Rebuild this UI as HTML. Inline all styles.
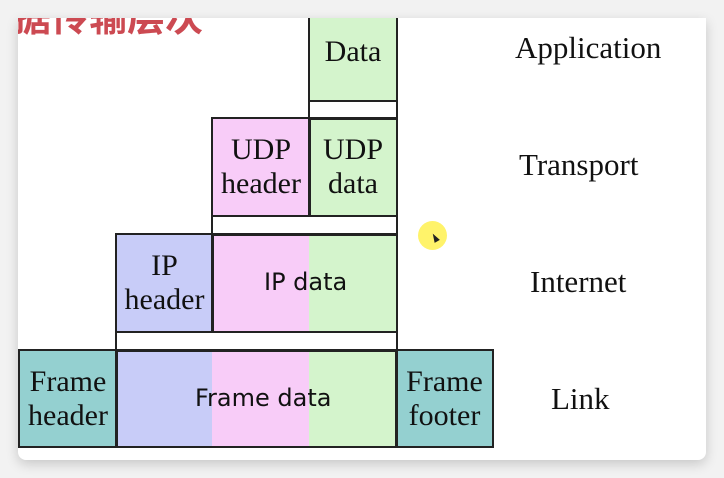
<!DOCTYPE html>
<html><head><meta charset="utf-8"><style>
html,body{margin:0;padding:0;width:724px;height:478px;background:#f2f2f2;overflow:hidden;}
.card{position:absolute;left:18px;top:18px;width:688px;height:442px;background:#fff;border-radius:0 0 8px 8px;box-shadow:0 4px 12px rgba(0,0,0,.18);overflow:hidden;}
.t{position:absolute;left:-5px;top:-22px;font:bold 38px "Noto Sans CJK SC",sans-serif;color:#cc4a52;line-height:1;white-space:nowrap;}
.b{position:absolute;box-sizing:border-box;border:2px solid #222;display:flex;align-items:center;justify-content:center;text-align:center;font:30px/34px "Liberation Serif",serif;color:#111;}
.f{position:absolute;}
.s{font-family:"DejaVu Sans","Liberation Sans",sans-serif;font-size:24px;position:absolute;color:#111;}
.l{position:absolute;font:31px "Liberation Serif",serif;color:#111;}
</style></head><body>
<div class="card">
<div class="t">据传输层次</div>
</div>
<div class="f" style="left:309px;top:18px;width:87px;height:82px;background:#d4f4cc"></div>
<div class="f" style="left:212px;top:118px;width:97px;height:97px;background:#f8ccf8"></div>
<div class="f" style="left:309px;top:118px;width:87px;height:97px;background:#d4f4cc"></div>
<div class="f" style="left:116px;top:234px;width:96px;height:98px;background:#c8ccf8"></div>
<div class="f" style="left:212px;top:234px;width:97px;height:98px;background:#f8ccf8"></div>
<div class="f" style="left:309px;top:234px;width:87px;height:98px;background:#d4f4cc"></div>
<div class="f" style="left:19px;top:350px;width:97px;height:97px;background:#94d0d0"></div>
<div class="f" style="left:116px;top:350px;width:96px;height:97px;background:#c8ccf8"></div>
<div class="f" style="left:212px;top:350px;width:97px;height:97px;background:#f8ccf8"></div>
<div class="f" style="left:309px;top:350px;width:87px;height:97px;background:#d4f4cc"></div>
<div class="f" style="left:396px;top:350px;width:97px;height:97px;background:#94d0d0"></div>
<div class="b" style="left:308px;top:18px;width:90px;height:84px;border-top:none;padding-bottom:14px">Data</div>
<div class="b" style="left:308px;top:100px;width:90px;height:20px"></div>
<div class="b" style="left:211px;top:117px;width:100px;height:100px">UDP<br>header</div>
<div class="b" style="left:308px;top:117px;width:90px;height:100px">UDP<br>data</div>
<div class="b" style="left:211px;top:215px;width:187px;height:21px"></div>
<div class="b" style="left:115px;top:233px;width:99px;height:100px">IP<br>header</div>
<div class="b" style="left:211px;top:233px;width:187px;height:100px"></div>
<div class="s" style="left:264px;top:268px">IP data</div>
<div class="b" style="left:115px;top:331px;width:283px;height:21px"></div>
<div class="b" style="left:18px;top:349px;width:100px;height:99px">Frame<br>header</div>
<div class="b" style="left:115px;top:349px;width:283px;height:99px"></div>
<div class="s" style="left:195px;top:384px">Frame data</div>
<div class="b" style="left:395px;top:349px;width:99px;height:99px">Frame<br>footer</div>
<div class="l" style="left:515px;top:30px">Application</div>
<div class="l" style="left:519px;top:147px">Transport</div>
<div class="l" style="left:530px;top:264px">Internet</div>
<div class="l" style="left:551px;top:381px">Link</div>
<div style="position:absolute;left:418px;top:221px;width:29px;height:29px;border-radius:50%;background:#fff36a"></div>
<div style="position:absolute;left:432px;top:233px;width:0;height:0;border-left:3px solid transparent;border-right:3px solid transparent;border-bottom:9px solid #222;transform:rotate(-30deg)"></div>
</body></html>
